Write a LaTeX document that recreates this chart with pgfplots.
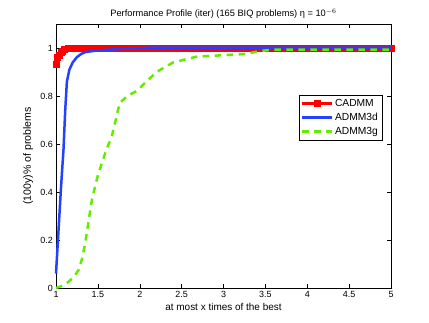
\documentclass[border=0pt]{standalone}
\usepackage{fontspec}
\setmainfont{Liberation Sans}
\usepackage{pgfplots}
\pgfplotsset{compat=1.18}
\definecolor{mred}{RGB}{255,0,0}
\definecolor{mblue}{RGB}{35,65,255}
\definecolor{mgreen}{RGB}{100,235,0}

\begin{document}
\fontsize{9}{11}\selectfont
\begin{tikzpicture}
\begin{axis}[
    at={(0,0)}, anchor=south west,
    scale only axis,
    width=335bp, height=264bp,
    xmin=1, xmax=5, ymin=0, ymax=1.1,
    clip=false, clip marker paths=true,
    xtick={1,1.5,...,5},
    ytick={0,0.2,0.4,0.6,0.8,1},
    xticklabels={1,1.5,2,2.5,3,3.5,4,4.5,5},
    yticklabels={0,0.2,0.4,0.6,0.8,1},
    tick align=inside,
    tick pos=both,
    major tick length=4bp,
    tick style={black, thin},
    axis line style={black, thin},
    /pgf/number format/assume math mode=true,
    ticklabel style={font=\fontsize{9}{11}\selectfont},
    title={Performance Profile (iter) (165 BIQ problems) η = 10$^{-6}$},
    title style={font=\fontsize{9.3}{11}\selectfont, yshift=-4bp},
    xlabel={at most x times of the best},
    ylabel={(100y)\% of problems},
    xlabel style={font=\fontsize{10}{12}\selectfont},
    ylabel style={font=\fontsize{10.6}{12}\selectfont, yshift=1bp},
    legend style={at={(0.973,0.731)}, anchor=north east, draw=black,
        font=\fontsize{10.3}{12}\selectfont, inner sep=2bp,
        row sep=1.5bp},
    legend cell align=left,
    legend image code/.code={%
        \draw[mark repeat=2, mark phase=2, #1]
        plot coordinates {(0cm,0cm) (0.52cm,0cm) (1.04cm,0cm)};},
]
\addplot[const plot, mred, line width=2.8bp, mark=square*, mark size=3bp,
    mark options={solid, line width=0.5bp}] coordinates {
(1,0.933) (1.02,0.96) (1.04,0.97) (1.06,0.982) (1.08,0.988) (1.1,0.994)
(1.15,0.997) (1.2,1) (1.25,1) (1.3,1) (1.35,1) (1.4,1) (1.45,1) (1.5,1)
(1.55,1) (1.6,1) (1.65,1) (1.7,1) (1.75,1) (1.8,1) (1.85,1) (1.9,1) (1.95,1)
(2,1) (2.05,1) (2.1,1) (2.15,1) (2.2,1) (2.25,1) (2.3,1) (2.35,1) (2.4,1)
(2.45,1) (2.5,1) (2.55,1) (2.6,1) (2.65,1) (2.7,1) (2.75,1) (2.8,1) (2.85,1)
(2.9,1) (2.95,1) (3,1) (3.05,1) (3.1,1) (3.15,1) (3.2,1) (3.25,1) (3.3,1)
(3.35,1) (3.4,1) (3.45,1) (3.5,1) (3.55,1) (3.6,1) (3.65,1) (3.7,1) (3.75,1)
(3.8,1) (3.85,1) (3.9,1) (3.95,1) (4,1) (4.05,1) (4.1,1) (4.15,1) (4.2,1)
(4.25,1) (4.3,1) (4.35,1) (4.4,1) (4.45,1) (4.5,1) (4.55,1) (4.6,1) (4.65,1)
(4.7,1) (4.75,1) (4.8,1) (4.85,1) (4.9,1) (4.95,1) (5,1)
};
\addlegendentry{CADMM}
\addplot[mblue, line width=2.5bp] coordinates {
(1,0.06) (1.03,0.24) (1.06,0.42) (1.09,0.58) (1.11,0.74) (1.13,0.86)
(1.16,0.91) (1.2,0.94) (1.25,0.962) (1.3,0.975) (1.35,0.983) (1.5,0.99)
(1.8,0.997) (2.2,1.002) (5,1.002)
};
\addlegendentry{ADMM3d}
\addplot[mgreen, line width=2.5bp, dash pattern=on 6.5bp off 5.5bp] coordinates {
(1,0) (1.08,0.01) (1.15,0.026) (1.21,0.045) (1.27,0.075) (1.31,0.12)
(1.35,0.19) (1.39,0.28) (1.43,0.37) (1.5,0.47) (1.6,0.575) (1.665,0.63)
(1.72,0.71) (1.76,0.77) (1.85,0.8) (1.96,0.82) (2.08,0.86) (2.2,0.9)
(2.4,0.94) (2.68,0.964) (3,0.97) (3.25,0.975) (3.45,0.988) (3.6,0.993)
(4,0.993) (5,0.993)
};
\addlegendentry{ADMM3g}
\end{axis}
\useasboundingbox (-56bp,-35bp) rectangle (373bp,288bp);
\end{tikzpicture}
\end{document}
